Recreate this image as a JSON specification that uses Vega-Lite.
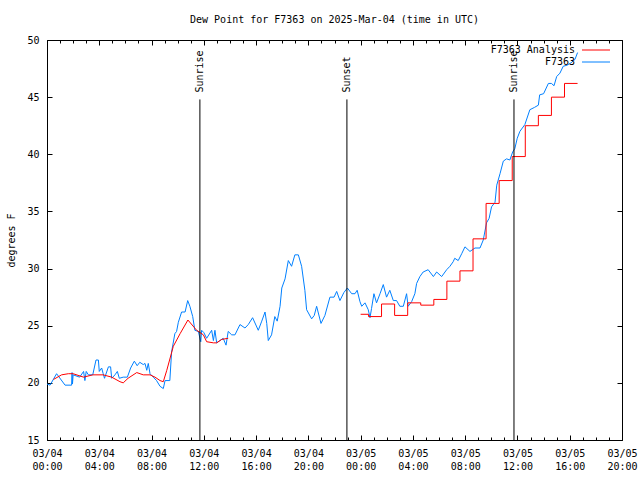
{
  "$schema": "https://vega.github.io/schema/vega-lite/v6.json",
  "width": 575,
  "height": 400,
  "autosize": {"type": "none"},
  "padding": {"left": 47, "top": 40, "right": 18, "bottom": 40},
  "background": "white",
  "title": {"text": "Dew Point for F7363 on 2025-Mar-04 (time in UTC)", "font": "DejaVu Sans Mono", "fontSize": 10, "fontWeight": "normal", "offset": 10, "anchor": "middle", "color": "black"},
  "config": {
    "font": "DejaVu Sans Mono",
    "view": {"stroke": "black", "strokeWidth": 1},
    "axis": {"domain": false, "grid": false, "labelFont": "DejaVu Sans Mono", "labelFontSize": 10, "labelColor": "black", "tickColor": "black", "tickWidth": 1, "titleFont": "DejaVu Sans Mono", "titleFontSize": 10, "titleFontWeight": "normal", "titleColor": "black", "offset": 0}
  },
  "datasets": {
    "obs": [
      {"t": "2025-03-04T00:00:00Z", "v": 19.9}, {"t": "2025-03-04T00:14:00Z", "v": 19.8}, {"t": "2025-03-04T00:44:00Z", "v": 20.8}, {"t": "2025-03-04T01:23:00Z", "v": 19.8},
      {"t": "2025-03-04T01:53:00Z", "v": 19.8}, {"t": "2025-03-04T01:55:00Z", "v": 20.9}, {"t": "2025-03-04T01:57:00Z", "v": 19.9}, {"t": "2025-03-04T02:00:00Z", "v": 20.7},
      {"t": "2025-03-04T02:30:00Z", "v": 20.5}, {"t": "2025-03-04T02:48:00Z", "v": 21.0}, {"t": "2025-03-04T02:54:00Z", "v": 20.2}, {"t": "2025-03-04T03:00:00Z", "v": 21.0},
      {"t": "2025-03-04T03:10:00Z", "v": 20.7}, {"t": "2025-03-04T03:30:00Z", "v": 20.7}, {"t": "2025-03-04T03:45:00Z", "v": 22.0}, {"t": "2025-03-04T03:56:00Z", "v": 22.0},
      {"t": "2025-03-04T04:00:00Z", "v": 21.0}, {"t": "2025-03-04T04:11:00Z", "v": 21.3}, {"t": "2025-03-04T04:18:00Z", "v": 20.8}, {"t": "2025-03-04T04:24:00Z", "v": 20.4},
      {"t": "2025-03-04T04:42:00Z", "v": 21.4}, {"t": "2025-03-04T04:52:00Z", "v": 21.4}, {"t": "2025-03-04T04:57:00Z", "v": 20.4}, {"t": "2025-03-04T05:12:00Z", "v": 20.7},
      {"t": "2025-03-04T05:23:00Z", "v": 21.0}, {"t": "2025-03-04T05:32:00Z", "v": 20.4}, {"t": "2025-03-04T05:50:00Z", "v": 20.5}, {"t": "2025-03-04T06:09:00Z", "v": 20.5},
      {"t": "2025-03-04T06:24:00Z", "v": 21.3}, {"t": "2025-03-04T06:41:00Z", "v": 21.9}, {"t": "2025-03-04T06:54:00Z", "v": 21.5}, {"t": "2025-03-04T07:06:00Z", "v": 21.8},
      {"t": "2025-03-04T07:22:00Z", "v": 21.6}, {"t": "2025-03-04T07:30:00Z", "v": 21.7}, {"t": "2025-03-04T07:38:00Z", "v": 21.1}, {"t": "2025-03-04T07:45:00Z", "v": 21.7},
      {"t": "2025-03-04T07:53:00Z", "v": 20.8}, {"t": "2025-03-04T08:08:00Z", "v": 20.5}, {"t": "2025-03-04T08:23:00Z", "v": 20.2}, {"t": "2025-03-04T08:39:00Z", "v": 19.7},
      {"t": "2025-03-04T08:54:00Z", "v": 19.5}, {"t": "2025-03-04T09:02:00Z", "v": 20.2}, {"t": "2025-03-04T09:24:00Z", "v": 20.2}, {"t": "2025-03-04T09:32:00Z", "v": 22.7},
      {"t": "2025-03-04T09:47:00Z", "v": 24.3}, {"t": "2025-03-04T09:55:00Z", "v": 24.5}, {"t": "2025-03-04T10:03:00Z", "v": 25.3}, {"t": "2025-03-04T10:18:00Z", "v": 26.2},
      {"t": "2025-03-04T10:34:00Z", "v": 26.2}, {"t": "2025-03-04T10:46:00Z", "v": 27.2}, {"t": "2025-03-04T10:56:00Z", "v": 26.7}, {"t": "2025-03-04T11:09:00Z", "v": 25.8},
      {"t": "2025-03-04T11:19:00Z", "v": 24.6}, {"t": "2025-03-04T11:35:00Z", "v": 24.5}, {"t": "2025-03-04T11:46:00Z", "v": 23.6}, {"t": "2025-03-04T11:50:00Z", "v": 24.6},
      {"t": "2025-03-04T12:00:00Z", "v": 24.4}, {"t": "2025-03-04T12:13:00Z", "v": 23.9}, {"t": "2025-03-04T12:36:00Z", "v": 24.6}, {"t": "2025-03-04T12:44:00Z", "v": 23.7},
      {"t": "2025-03-04T12:51:00Z", "v": 24.6}, {"t": "2025-03-04T12:59:00Z", "v": 23.5}, {"t": "2025-03-04T13:14:00Z", "v": 23.7}, {"t": "2025-03-04T13:29:00Z", "v": 23.9},
      {"t": "2025-03-04T13:42:00Z", "v": 23.3}, {"t": "2025-03-04T13:52:00Z", "v": 24.5}, {"t": "2025-03-04T14:08:00Z", "v": 24.2}, {"t": "2025-03-04T14:23:00Z", "v": 24.2},
      {"t": "2025-03-04T14:46:00Z", "v": 25.1}, {"t": "2025-03-04T15:09:00Z", "v": 24.8}, {"t": "2025-03-04T15:24:00Z", "v": 25.1}, {"t": "2025-03-04T15:44:00Z", "v": 25.7},
      {"t": "2025-03-04T16:10:00Z", "v": 24.6}, {"t": "2025-03-04T16:26:00Z", "v": 25.4}, {"t": "2025-03-04T16:41:00Z", "v": 26.2}, {"t": "2025-03-04T16:49:00Z", "v": 25.2},
      {"t": "2025-03-04T16:56:00Z", "v": 23.7}, {"t": "2025-03-04T17:11:00Z", "v": 24.2}, {"t": "2025-03-04T17:26:00Z", "v": 25.8}, {"t": "2025-03-04T17:37:00Z", "v": 25.4},
      {"t": "2025-03-04T17:50:00Z", "v": 26.7}, {"t": "2025-03-04T17:58:00Z", "v": 28.3}, {"t": "2025-03-04T18:13:00Z", "v": 29.1}, {"t": "2025-03-04T18:28:00Z", "v": 30.7},
      {"t": "2025-03-04T18:43:00Z", "v": 30.2}, {"t": "2025-03-04T18:58:00Z", "v": 31.2}, {"t": "2025-03-04T19:14:00Z", "v": 31.2}, {"t": "2025-03-04T19:29:00Z", "v": 30.2},
      {"t": "2025-03-04T19:44:00Z", "v": 28.1}, {"t": "2025-03-04T19:52:00Z", "v": 26.4}, {"t": "2025-03-04T20:15:00Z", "v": 25.6}, {"t": "2025-03-04T20:27:00Z", "v": 25.9},
      {"t": "2025-03-04T20:38:00Z", "v": 26.7}, {"t": "2025-03-04T20:58:00Z", "v": 25.2}, {"t": "2025-03-04T21:16:00Z", "v": 25.9}, {"t": "2025-03-04T21:39:00Z", "v": 27.5},
      {"t": "2025-03-04T21:58:00Z", "v": 27.5}, {"t": "2025-03-04T22:10:00Z", "v": 28.0}, {"t": "2025-03-04T22:25:00Z", "v": 27.2}, {"t": "2025-03-04T22:43:00Z", "v": 27.9},
      {"t": "2025-03-04T22:59:00Z", "v": 28.3}, {"t": "2025-03-04T23:19:00Z", "v": 27.8}, {"t": "2025-03-04T23:34:00Z", "v": 27.8}, {"t": "2025-03-04T23:44:00Z", "v": 28.1},
      {"t": "2025-03-04T23:57:00Z", "v": 27.1}, {"t": "2025-03-05T00:05:00Z", "v": 26.7}, {"t": "2025-03-05T00:20:00Z", "v": 27.0}, {"t": "2025-03-05T00:35:00Z", "v": 26.4},
      {"t": "2025-03-05T00:43:00Z", "v": 25.7}, {"t": "2025-03-05T00:50:00Z", "v": 26.5}, {"t": "2025-03-05T01:01:00Z", "v": 27.8}, {"t": "2025-03-05T01:13:00Z", "v": 27.0},
      {"t": "2025-03-05T01:29:00Z", "v": 27.8}, {"t": "2025-03-05T01:44:00Z", "v": 28.6}, {"t": "2025-03-05T01:59:00Z", "v": 27.5}, {"t": "2025-03-05T02:14:00Z", "v": 28.1},
      {"t": "2025-03-05T02:30:00Z", "v": 27.2}, {"t": "2025-03-05T02:45:00Z", "v": 27.2}, {"t": "2025-03-05T03:00:00Z", "v": 26.7}, {"t": "2025-03-05T03:16:00Z", "v": 26.7},
      {"t": "2025-03-05T03:31:00Z", "v": 27.8}, {"t": "2025-03-05T03:38:00Z", "v": 26.7}, {"t": "2025-03-05T03:54:00Z", "v": 27.1}, {"t": "2025-03-05T04:09:00Z", "v": 27.8},
      {"t": "2025-03-05T04:17:00Z", "v": 28.7}, {"t": "2025-03-05T04:32:00Z", "v": 29.3}, {"t": "2025-03-05T04:47:00Z", "v": 29.7}, {"t": "2025-03-05T05:10:00Z", "v": 29.9},
      {"t": "2025-03-05T05:34:00Z", "v": 29.3}, {"t": "2025-03-05T05:49:00Z", "v": 29.7}, {"t": "2025-03-05T06:12:00Z", "v": 29.3}, {"t": "2025-03-05T06:35:00Z", "v": 29.9},
      {"t": "2025-03-05T06:50:00Z", "v": 30.2}, {"t": "2025-03-05T07:05:00Z", "v": 30.6}, {"t": "2025-03-05T07:12:00Z", "v": 30.9}, {"t": "2025-03-05T07:28:00Z", "v": 30.7},
      {"t": "2025-03-05T07:44:00Z", "v": 31.3}, {"t": "2025-03-05T07:59:00Z", "v": 31.9}, {"t": "2025-03-05T08:22:00Z", "v": 31.5}, {"t": "2025-03-05T08:45:00Z", "v": 31.8},
      {"t": "2025-03-05T09:08:00Z", "v": 31.8}, {"t": "2025-03-05T09:23:00Z", "v": 32.5}, {"t": "2025-03-05T09:38:00Z", "v": 34.0}, {"t": "2025-03-05T09:50:00Z", "v": 34.4},
      {"t": "2025-03-05T10:01:00Z", "v": 35.4}, {"t": "2025-03-05T10:17:00Z", "v": 35.8}, {"t": "2025-03-05T10:25:00Z", "v": 37.3}, {"t": "2025-03-05T10:40:00Z", "v": 38.3},
      {"t": "2025-03-05T10:55:00Z", "v": 39.4}, {"t": "2025-03-05T11:10:00Z", "v": 39.6}, {"t": "2025-03-05T11:25:00Z", "v": 39.5}, {"t": "2025-03-05T11:38:00Z", "v": 40.2},
      {"t": "2025-03-05T11:48:00Z", "v": 40.5}, {"t": "2025-03-05T11:59:00Z", "v": 41.4}, {"t": "2025-03-05T12:11:00Z", "v": 42.0}, {"t": "2025-03-05T12:34:00Z", "v": 42.6},
      {"t": "2025-03-05T12:57:00Z", "v": 43.9}, {"t": "2025-03-05T13:18:00Z", "v": 44.1}, {"t": "2025-03-05T13:36:00Z", "v": 44.3}, {"t": "2025-03-05T13:42:00Z", "v": 45.2},
      {"t": "2025-03-05T14:00:00Z", "v": 45.3}, {"t": "2025-03-05T14:22:00Z", "v": 46.2}, {"t": "2025-03-05T14:36:00Z", "v": 46.2}, {"t": "2025-03-05T14:48:00Z", "v": 46.0},
      {"t": "2025-03-05T15:00:00Z", "v": 46.8}, {"t": "2025-03-05T15:15:00Z", "v": 47.1}, {"t": "2025-03-05T15:30:00Z", "v": 47.7}, {"t": "2025-03-05T15:48:00Z", "v": 47.8},
      {"t": "2025-03-05T16:06:00Z", "v": 48.0}, {"t": "2025-03-05T16:24:00Z", "v": 48.3}, {"t": "2025-03-05T16:36:00Z", "v": 48.9}
    ],
    "ana": [
      {"t": "2025-03-04T00:30:00Z", "v": 20.3}, {"t": "2025-03-04T01:07:00Z", "v": 20.7}, {"t": "2025-03-04T01:38:00Z", "v": 20.8}, {"t": "2025-03-04T02:00:00Z", "v": 20.8},
      {"t": "2025-03-04T02:48:00Z", "v": 20.5}, {"t": "2025-03-04T03:30:00Z", "v": 20.7}, {"t": "2025-03-04T04:18:00Z", "v": 20.7}, {"t": "2025-03-04T04:57:00Z", "v": 20.5},
      {"t": "2025-03-04T05:35:00Z", "v": 20.1}, {"t": "2025-03-04T05:50:00Z", "v": 20.0}, {"t": "2025-03-04T06:12:00Z", "v": 20.4}, {"t": "2025-03-04T06:52:00Z", "v": 20.9},
      {"t": "2025-03-04T07:22:00Z", "v": 20.7}, {"t": "2025-03-04T07:53:00Z", "v": 20.7}, {"t": "2025-03-04T08:16:00Z", "v": 20.5}, {"t": "2025-03-04T08:39:00Z", "v": 20.2},
      {"t": "2025-03-04T08:54:00Z", "v": 20.1}, {"t": "2025-03-04T09:10:00Z", "v": 21.1}, {"t": "2025-03-04T09:40:00Z", "v": 23.2}, {"t": "2025-03-04T10:11:00Z", "v": 24.3},
      {"t": "2025-03-04T10:47:00Z", "v": 25.5}, {"t": "2025-03-04T11:27:00Z", "v": 24.6}, {"t": "2025-03-04T11:58:00Z", "v": 24.2}, {"t": "2025-03-04T12:13:00Z", "v": 23.6},
      {"t": "2025-03-04T12:44:00Z", "v": 23.5}, {"t": "2025-03-04T12:59:00Z", "v": 23.5}, {"t": "2025-03-04T13:22:00Z", "v": 23.8}, {"t": "2025-03-04T13:52:00Z", "v": 23.9}
    ],
    "ana_step": [
      {"t": "2025-03-05T00:00:00Z", "v": 26.0}, {"t": "2025-03-05T00:36:00Z", "v": 25.8}, {"t": "2025-03-05T01:36:00Z", "v": 26.9}, {"t": "2025-03-05T02:36:00Z", "v": 25.9},
      {"t": "2025-03-05T03:36:00Z", "v": 27.0}, {"t": "2025-03-05T04:36:00Z", "v": 26.8}, {"t": "2025-03-05T05:36:00Z", "v": 27.3}, {"t": "2025-03-05T06:36:00Z", "v": 28.9},
      {"t": "2025-03-05T07:36:00Z", "v": 29.8}, {"t": "2025-03-05T08:36:00Z", "v": 32.6}, {"t": "2025-03-05T09:36:00Z", "v": 35.7}, {"t": "2025-03-05T10:36:00Z", "v": 37.7},
      {"t": "2025-03-05T11:36:00Z", "v": 39.8}, {"t": "2025-03-05T12:36:00Z", "v": 42.5}, {"t": "2025-03-05T13:36:00Z", "v": 43.4}, {"t": "2025-03-05T14:36:00Z", "v": 45.0},
      {"t": "2025-03-05T15:36:00Z", "v": 46.2}, {"t": "2025-03-05T16:36:00Z", "v": 46.2}
    ],
    "events": [
      {"t": "2025-03-04T11:42:00Z", "label": "Sunrise"},
      {"t": "2025-03-04T22:57:00Z", "label": "Sunset"},
      {"t": "2025-03-05T11:44:00Z", "label": "Sunrise"}
    ]
  },
  "resolve": {"axis": {"x": "independent", "y": "independent"}},
  "layer": [
    {
      "data": {"name": "obs"},
      "mark": {"type": "line", "strokeWidth": 1, "interpolate": "linear"},
      "encoding": {
        "x": {"field": "t", "type": "temporal",
          "scale": {"type": "utc", "domain": [1741046400000, 1741204800000]},
          "axis": {"orient": "bottom", "title": null,
            "values": [1741046400000, 1741060800000, 1741075200000, 1741089600000, 1741104000000, 1741118400000, 1741132800000, 1741147200000, 1741161600000, 1741176000000, 1741190400000, 1741204800000],
            "labelExpr": "[utcFormat(datum.value, '%m/%d'), utcFormat(datum.value, '%H:%M')]",
            "tickSize": -5, "labelPadding": 13, "labelLineHeight": 13, "labelBaseline": "top", "labelFlush": false, "labelOverlap": false, "labelBound": false}},
        "y": {"field": "v", "type": "quantitative",
          "scale": {"domain": [15, 50], "nice": false, "zero": false},
          "axis": {"orient": "left", "values": [15, 20, 25, 30, 35, 40, 45, 50], "tickSize": -5, "labelPadding": 13, "title": "degrees F", "titlePadding": 10}},
        "color": {"datum": "F7363", "type": "nominal",
          "scale": {"domain": ["F7363 Analysis", "F7363"], "range": ["#ff0000", "#0080ff"]},
          "legend": {"title": null, "orient": "none", "legendX": 544, "legendY": 5, "padding": 0, "symbolType": "M-4,0H4", "symbolSize": 49, "symbolStrokeWidth": 1, "symbolFillColor": "transparent", "labelAlign": "right", "labelBaseline": "middle", "labelOffset": -26, "labelFont": "DejaVu Sans Mono", "labelFontSize": 10, "labelColor": "black", "labelLimit": 300, "rowPadding": 2}}
      }
    },
    {
      "data": {"name": "ana"},
      "mark": {"type": "line", "strokeWidth": 1, "interpolate": "linear"},
      "encoding": {
        "x": {"field": "t", "type": "temporal",
          "axis": {"orient": "top", "title": null, "labels": false,
            "values": [1741046400000, 1741060800000, 1741075200000, 1741089600000, 1741104000000, 1741118400000, 1741132800000, 1741147200000, 1741161600000, 1741176000000, 1741190400000, 1741204800000],
            "tickSize": -5}},
        "y": {"field": "v", "type": "quantitative",
          "axis": {"orient": "right", "values": [15, 20, 25, 30, 35, 40, 45, 50], "tickSize": -5, "labels": false, "title": null}},
        "color": {"datum": "F7363 Analysis", "type": "nominal"}
      }
    },
    {
      "data": {"name": "ana_step"},
      "mark": {"type": "line", "strokeWidth": 1, "interpolate": "step-after"},
      "encoding": {
        "x": {"field": "t", "type": "temporal",
          "axis": {"orient": "bottom", "title": null, "labels": false, "tickSize": -3,
            "values": [1741046400000, 1741050000000, 1741053600000, 1741057200000, 1741060800000, 1741064400000, 1741068000000, 1741071600000, 1741075200000, 1741078800000, 1741082400000, 1741086000000, 1741089600000, 1741093200000, 1741096800000, 1741100400000, 1741104000000, 1741107600000, 1741111200000, 1741114800000, 1741118400000, 1741122000000, 1741125600000, 1741129200000, 1741132800000, 1741136400000, 1741140000000, 1741143600000, 1741147200000, 1741150800000, 1741154400000, 1741158000000, 1741161600000, 1741165200000, 1741168800000, 1741172400000, 1741176000000, 1741179600000, 1741183200000, 1741186800000, 1741190400000, 1741194000000, 1741197600000, 1741201200000, 1741204800000]}},
        "y": {"field": "v", "type": "quantitative", "axis": null},
        "color": {"datum": "F7363 Analysis", "type": "nominal"}
      }
    },
    {
      "data": {"name": "events"},
      "mark": {"type": "rule", "color": "black", "strokeWidth": 1},
      "encoding": {
        "x": {"field": "t", "type": "temporal",
          "axis": {"orient": "top", "title": null, "labels": false, "tickSize": -3,
            "values": [1741046400000, 1741050000000, 1741053600000, 1741057200000, 1741060800000, 1741064400000, 1741068000000, 1741071600000, 1741075200000, 1741078800000, 1741082400000, 1741086000000, 1741089600000, 1741093200000, 1741096800000, 1741100400000, 1741104000000, 1741107600000, 1741111200000, 1741114800000, 1741118400000, 1741122000000, 1741125600000, 1741129200000, 1741132800000, 1741136400000, 1741140000000, 1741143600000, 1741147200000, 1741150800000, 1741154400000, 1741158000000, 1741161600000, 1741165200000, 1741168800000, 1741172400000, 1741176000000, 1741179600000, 1741183200000, 1741186800000, 1741190400000, 1741194000000, 1741197600000, 1741201200000, 1741204800000]}},
        "y": {"datum": 15, "type": "quantitative", "axis": null},
        "y2": {"datum": 44.8}
      }
    },
    {
      "data": {"name": "events"},
      "mark": {"type": "text", "angle": 270, "align": "left", "baseline": "middle", "font": "DejaVu Sans Mono", "fontSize": 10, "color": "black"},
      "encoding": {
        "x": {"field": "t", "type": "temporal", "axis": null},
        "y": {"datum": 45.4, "type": "quantitative", "axis": null},
        "text": {"field": "label"}
      }
    }
  ]
}
